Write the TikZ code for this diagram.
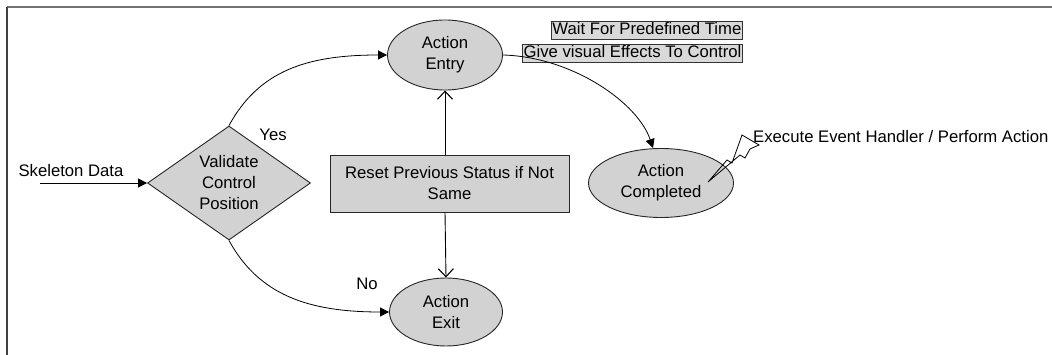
\documentclass[tikz,border=0pt]{standalone}
\usepackage{fontspec}
\setmainfont{Liberation Sans}
\usepackage{tikz}
\usetikzlibrary{arrows.meta,shapes.geometric}

\tikzset{
	state/.style={ellipse, draw=black!85, fill=gray!35, line width=0.9pt, align=center, inner sep=0pt},
	check/.style={diamond, draw=black!85, fill=gray!35, line width=0.9pt, align=center, inner sep=0pt, minimum width=163pt, minimum height=114pt, aspect=1.43},
	resetbox/.style={rectangle, draw=black!85, fill=gray!35, line width=0.9pt, align=center, minimum width=239pt, minimum height=57pt},
	notebox/.style={rectangle, draw=black!80, fill=gray!30, line width=0.8pt, inner sep=1.2pt, text height=12.5pt, text depth=3.5pt, anchor=east},
	flow/.style={line width=0.8pt, ->},
	push/.style={line width=0.9pt, -{Straight Barb[length=8pt,width=15pt,line width=1.1pt]}},
}

\begin{document}
\begin{tikzpicture}[x=1pt, y=-1pt, >={Triangle[length=9pt,width=9pt]}, font=\fontsize{16.7}{21}\selectfont]
		\useasboundingbox (0,0) rectangle (1052,355);
		% frame: only top and left edges are shown
		\draw[line width=2.4pt, black!55] (7,7) -- (1052,7);
		\draw[line width=2pt, black!75] (7,7) -- (7,355);

		\node[check] (valid) at (229,183) {Validate\\Control\\Position};
		\node[state, minimum width=115pt, minimum height=70pt] (entry) at (445,55) {Action\\Entry};
		\node[state, minimum width=113pt, minimum height=68pt] (exit) at (446,312) {Action\\Exit};
		\node[state, minimum width=145pt, minimum height=69pt] (done) at (661,183) {Action\\Completed};
		\node[resetbox] (reset) at (449.5,183.5) {Reset Previous Status if Not\\Same};

		\node[notebox] (wait) at (743,30.5) {Wait For Predefined Time};
		\node[notebox] (visual) at (743,53.5) {Give visual Effects To Control};

		% input
		\coordinate (in) at (40,183);
		\node (skel) at (71,171) {Skeleton Data};
		\draw[flow] (in) -- (valid.west);

		% decision branches
		\draw[flow] (valid.north) .. controls +(30,-55) and +(-80,0) .. (entry.west);
		\node (yes) at (273,135) {Yes};
		\draw[flow] (valid.south) .. controls +(30,55) and +(-80,0) .. (exit.west);
		\node (no) at (367,284) {No};

		\draw[push] (reset.north -| entry.south) -- (entry.south);
		\draw[push] (reset.south -| entry.south) -- (exit.north);

		\draw[flow] (entry.east) .. controls +(70,2) and +(-15,-45) .. ([xshift=-8pt]done.north);

		% callout bolt
		\draw[line width=0.8pt, line join=miter] (708,182) -- (727,160) -- (732,163) -- (742,135) -- (759,145) -- (750,149) -- (745,158) -- (740,155) -- cycle;
		\node[anchor=west, inner sep=1pt] (handler) at (752,137) {Execute Event Handler / Perform Action};
	\end{tikzpicture}
\end{document}
